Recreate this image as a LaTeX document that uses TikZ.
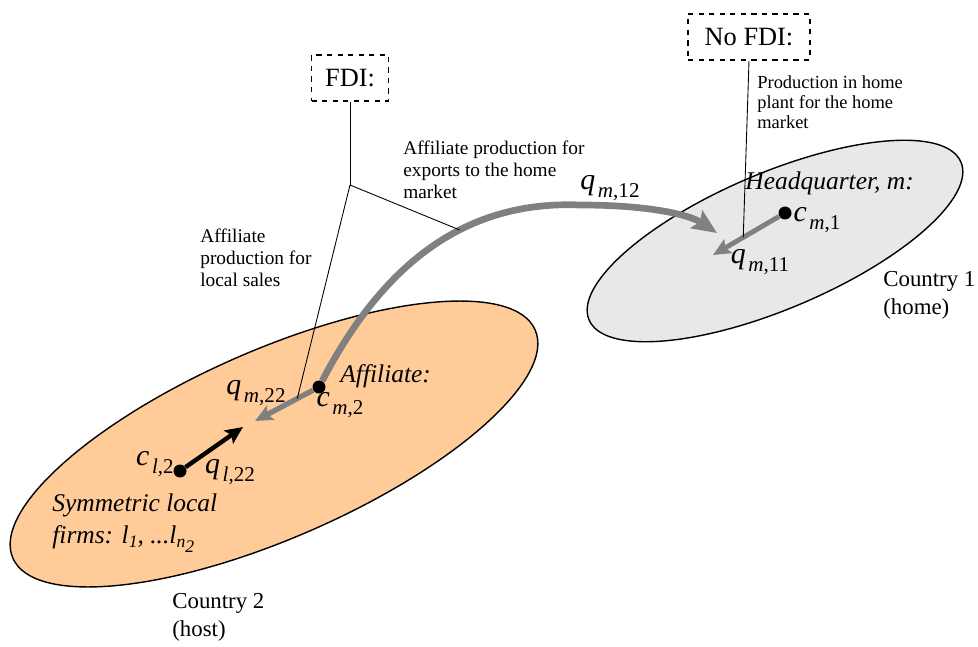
\documentclass[tikz,border=0pt]{standalone}
\usepackage{fontspec}
\setmainfont{Liberation Serif}
\usetikzlibrary{calc,arrows.meta}
\definecolor{hostfill}{RGB}{255,204,153}
\definecolor{homefill}{RGB}{232,232,232}
\definecolor{flowgray}{RGB}{128,128,128}
\newcommand{\flowlab}[3]{\textit{#1}\kern1.5pt\raisebox{-0.55ex}{\fontsize{12}{12}\selectfont\textit{#2},#3}}
\tikzset{
  firm/.style={circle, fill=black, inner sep=0pt, minimum size=0.26cm},
  regimebox/.style={draw, dashed, line width=1pt, font=\fontsize{15}{17}\selectfont, minimum height=0.92cm},
  note/.style={anchor=west, align=left, inner sep=0pt, font=\fontsize{11}{12.5}\selectfont},
  leader/.style={line width=0.5pt},
  flow/.style={line width=3pt, color=flowgray, -{Stealth[length=10pt,width=9pt,inset=2pt]}},
  symlab/.style={inner sep=0pt, font=\fontsize{17}{17}\selectfont},
  firmlab/.style={anchor=west, align=left, inner sep=0pt, font=\fontsize{14.5}{18}\selectfont\itshape},
}

\begin{document}
\begin{tikzpicture}
		%%%%% COUNTRIES %%%%%
		\useasboundingbox (0,0) rectangle (19.56,12.92);
		
		\draw[line width=0.8pt, fill=hostfill, rotate around={23.6:(5.48,4.04)}] (5.48,4.04) ellipse [x radius=5.7, y radius=1.88];
		\draw[line width=0.8pt, fill=homefill, rotate around={23:(15.5,8.1)}] (15.5,8.1) ellipse [x radius=4.04, y radius=1.36];
		
		%%%%% FIRMS AND FLOWS %%%%%
		\node[firm] (cm2) at (6.38,5.18) {};
		\node[firm] (cl2) at (3.60,3.50) {};
		\node[firm] (cm1) at (15.70,8.66) {};
		
		\coordinate (t22) at (5.10,4.50);
		\coordinate (tl22) at (4.86,4.38);
		\coordinate (t11) at (14.26,7.82);
		\coordinate (t12) at (14.34,8.26);
		
		\draw[flow] (cm2) -- (t22);
		\draw[flow, line width=2.8pt] (cm1) -- (t11);
		\draw[flow, color=black, line width=2.5pt] (cl2) -- (tl22);
		\draw[flow, line width=3.8pt, -{Stealth[length=14pt,width=12pt,inset=2.5pt]}] (cm2) .. controls (7.60,7.52) and (9.20,8.92) .. (11.60,8.82) coordinate[pos=0.62] (ex) .. controls (13.00,8.82) and (13.80,8.62) .. (t12);
		
		%%%%% REGIMES %%%%%
		\node[regimebox, minimum width=1.54cm] (fdi) at (7.00,11.36) {FDI:};
		\node[regimebox, minimum width=2.44cm] (nofdi) at (14.98,12.18) {No FDI:};
		
		\coordinate (fdij) at (7.00,9.22);
		\coordinate (loc) at ($(cm2)!0.34!(t22)$);
		\coordinate (home) at ($(cm1)!0.58!(t11)$);
		
		\draw[leader] (fdi.south) -- (fdij);
		\draw[leader] (fdij) -- (ex);
		\draw[leader] (fdij) -- (loc);
		\draw[leader] (nofdi.south) -- (home);
		
		%%%%% LABELS %%%%%
		\node[note] (exptxt) at (8.06,9.52) {Affiliate production for\\exports to the home\\market};
		\node[note] (loctxt) at (4.00,7.76) {Affiliate\\production for\\local sales};
		\node[note, font=\fontsize{10.5}{11.5}\selectfont] (hometxt) at (15.14,10.88) {Production in home\\plant for the home\\market};
		\node[note, font=\fontsize{13}{16}\selectfont] (c1txt) at (17.66,7.02) {Country 1\\(home)};
		\node[note, font=\fontsize{13}{16}\selectfont] (c2txt) at (3.44,0.58) {Country 2\\(host)};
		
		\node[firmlab] (loclab) at (1.04,2.46) {Symmetric local\\firms: l\raisebox{-0.4ex}{\fontsize{10}{10}\selectfont 1}, ...l\raisebox{-0.4ex}{\fontsize{10}{10}\selectfont n\raisebox{-0.5ex}{2}}};
		\node[firmlab] (hqlab) at (14.90,9.26) {Headquarter, m:};
		\node[firmlab] (afflab) at (6.80,5.40) {Affiliate:};
		
		\node[symlab] (q12) at (12.20,9.16) {\flowlab{q}{m}{12}};
		\node[symlab] (q11) at (15.20,7.68) {\flowlab{q}{m}{11}};
		\node[symlab] (c1) at (16.34,8.52) {\flowlab{c}{m}{1}};
		\node[symlab] (c2) at (6.80,4.82) {\flowlab{c}{m}{2}};
		\node[symlab] (q22) at (5.12,5.06) {\flowlab{q}{m}{22}};
		\node[symlab] (cl) at (3.10,3.64) {\flowlab{c}{l}{2}};
		\node[symlab] (ql22) at (4.60,3.48) {\flowlab{q}{l}{22}};
		
		%%%%% END %%%%%
\end{tikzpicture}
\end{document}
